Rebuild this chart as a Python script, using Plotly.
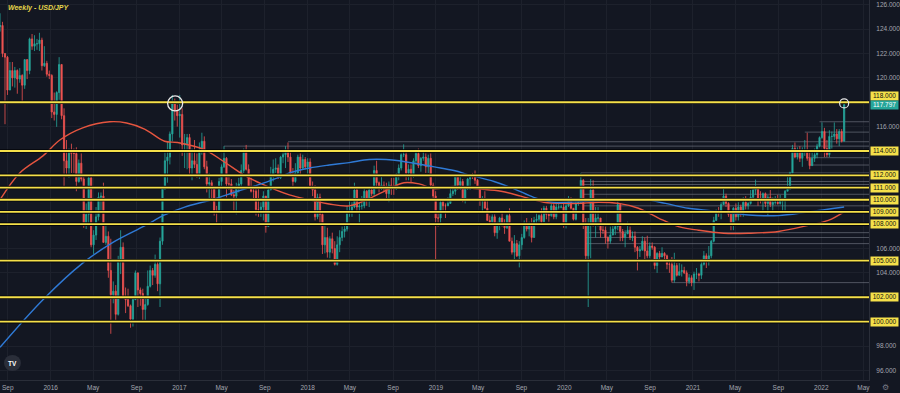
import plotly.graph_objects as go
import pandas as pd

# ---------------- data (weekly USD/JPY, weeks starting Mon 2015-08-10) ----------------
first_open = 124.2
close = [
    # 2015
    124.3, 122.0, 121.7, 119.0, 120.6, 120.0, 120.6, 119.9, 120.2, 119.4, 121.5, 120.6, 123.2, 122.6, 122.8, 122.8, 123.1, 121.0, 121.2, 120.3, 120.2,
    # 2016
    117.2, 117.0, 118.8, 121.1, 116.9, 113.2, 112.6, 114.0, 113.8, 113.8, 111.5, 113.0, 111.7, 108.0, 108.8, 111.8, 106.3, 107.1, 108.6, 110.2,
    110.3, 106.5, 107.0, 104.2, 102.2, 102.5, 100.6, 104.9, 106.1, 102.0, 101.8, 101.3, 100.2, 101.8, 104.0, 102.6, 102.3, 101.0, 101.4, 102.9,
    104.2, 103.8, 104.7, 103.1, 106.6, 110.9, 113.2, 113.5, 115.4, 117.9, 117.3, 116.9,
    # 2017
    117.0, 114.5, 114.6, 115.1, 112.6, 113.2, 112.9, 112.1, 114.0, 114.8, 112.7, 111.3, 111.4, 111.1, 109.1, 109.1, 111.5, 112.7, 113.4, 111.3,
    111.3, 110.4, 110.3, 110.9, 111.3, 112.4, 113.9, 112.5, 111.1, 110.7, 110.7, 109.2, 109.2, 109.4, 110.3, 107.8, 110.8, 112.0, 112.5, 112.6,
    111.8, 113.5, 113.7, 114.1, 113.5, 112.1, 111.5, 112.2, 113.5, 112.6, 113.3, 112.7,
    # 2018
    113.1, 111.0, 110.8, 108.6, 110.2, 108.8, 106.3, 106.9, 105.7, 106.8, 106.0, 104.7, 106.3, 106.9, 107.4, 107.6, 109.0, 109.1, 109.4, 110.8,
    109.4, 109.5, 109.5, 110.7, 110.0, 110.8, 110.5, 112.4, 111.4, 111.0, 111.2, 110.9, 110.5, 111.2, 111.1, 110.9, 112.0, 112.6, 113.7, 113.7,
    112.2, 112.5, 111.9, 113.2, 113.8, 112.8, 113.4, 113.5, 112.7, 113.4, 111.2, 110.3, 108.5,
    # 2019
    108.5, 109.8, 109.5, 109.5, 109.7, 110.5, 110.7, 111.9, 111.2, 111.5, 109.9, 110.9, 111.7, 112.0, 111.9, 111.6, 111.1, 109.9, 110.1, 109.3,
    108.3, 108.2, 108.6, 107.3, 107.9, 108.5, 107.9, 107.7, 108.7, 106.6, 105.7, 106.4, 105.4, 106.3, 106.9, 108.1, 107.6, 107.9, 106.9, 108.3,
    108.4, 108.7, 108.2, 109.3, 108.8, 108.7, 109.5, 108.6, 109.4, 109.4, 109.4, 108.1,
    # 2020
    109.5, 110.1, 109.3, 108.4, 109.7, 109.8, 111.6, 107.9, 105.4, 107.9, 110.8, 107.9, 108.5, 108.5, 107.5, 107.5, 106.9, 106.6, 107.1, 107.6,
    107.8, 109.6, 107.4, 106.9, 107.2, 107.5, 106.9, 107.0, 106.1, 105.8, 105.9, 106.6, 105.8, 105.4, 106.2, 106.1, 104.6, 105.6, 105.3, 105.6,
    105.4, 104.7, 104.7, 103.4, 104.6, 103.8, 104.1, 104.2, 104.0, 103.3, 103.6, 103.2,
    # 2021
    103.9, 103.9, 103.8, 104.7, 105.4, 104.9, 105.4, 106.6, 108.3, 109.0, 108.9, 109.6, 110.3, 109.7, 108.8, 107.9, 109.3, 108.6, 109.4, 108.9,
    109.8, 109.5, 109.7, 110.2, 110.8, 111.0, 110.1, 110.1, 110.5, 109.7, 110.2, 109.6, 109.8, 109.8, 109.7, 109.9, 109.9, 110.7, 111.0, 112.2,
    114.2, 113.5, 114.0, 113.4, 113.9, 114.0, 113.4, 112.8, 113.4, 113.7, 114.4, 115.1,
    # 2022
    115.6, 114.2, 113.7, 115.2, 115.2, 115.4, 115.0, 115.6, 114.8, 117.797,
]
high = [
    # 2015
    125.3, 124.6, 122.0, 121.8, 121.3, 121.3, 120.9, 120.7, 120.8, 120.3, 121.5, 121.5, 123.3, 123.6, 123.5, 123.2, 123.7, 123.3, 122.6, 121.4, 120.6,
    # 2016
    120.3, 118.8, 118.9, 121.7, 121.0, 117.5, 114.9, 114.2, 114.6, 114.2, 114.3, 113.3, 113.8, 112.1, 109.7, 111.9, 111.9, 107.5, 109.4, 110.6,
    110.6, 111.4, 107.9, 107.4, 106.8, 103.3, 103.0, 105.4, 107.5, 106.5, 102.8, 102.7, 101.4, 102.0, 104.2, 104.0, 102.8, 102.7, 101.9, 104.2,
    104.6, 104.4, 105.5, 105.0, 106.9, 111.0, 113.9, 114.8, 115.6, 118.6, 118.3, 117.8,
    # 2017
    118.6, 117.5, 115.4, 115.4, 115.4, 114.2, 114.9, 113.8, 114.7, 115.5, 115.2, 113.2, 112.2, 111.6, 111.1, 109.5, 111.8, 112.9, 114.4, 113.5,
    112.1, 111.7, 110.8, 111.4, 111.8, 112.9, 114.2, 114.5, 112.9, 111.8, 111.1, 110.9, 110.9, 109.8, 110.7, 110.3, 111.0, 112.7, 113.3, 113.4,
    112.9, 113.6, 114.1, 114.4, 114.7, 113.9, 112.6, 113.0, 113.7, 113.8, 113.7, 113.5,
    # 2018
    113.4, 113.4, 111.5, 111.2, 110.5, 110.5, 109.0, 107.9, 107.7, 107.0, 107.3, 106.6, 107.0, 107.5, 107.8, 107.9, 109.5, 110.0, 109.8, 111.4,
    111.1, 109.8, 110.3, 110.9, 110.8, 110.9, 111.1, 112.8, 113.2, 111.5, 112.1, 111.5, 111.4, 111.5, 111.8, 111.8, 112.2, 112.9, 113.8, 114.55,
    113.9, 112.9, 112.9, 113.4, 114.1, 114.2, 113.5, 114.0, 113.8, 113.7, 113.8, 111.4, 110.7,
    # 2019
    109.1, 109.9, 109.9, 109.7, 110.2, 111.1, 110.9, 112.1, 112.1, 111.9, 111.7, 111.0, 111.8, 112.1, 112.2, 112.4, 111.7, 111.1, 110.3, 110.7,
    109.9, 108.7, 108.8, 108.8, 108.2, 108.6, 108.9, 108.4, 108.8, 109.3, 106.9, 107.1, 106.7, 106.6, 107.2, 108.3, 108.5, 108.2, 108.5, 108.6,
    108.9, 108.8, 109.3, 109.5, 109.5, 109.0, 109.7, 109.7, 109.7, 109.7, 109.6, 109.7,
    # 2020
    109.7, 110.3, 110.2, 109.3, 110.0, 110.1, 112.2, 111.7, 108.5, 108.5, 111.7, 111.6, 109.4, 109.4, 108.1, 108.1, 107.8, 107.0, 107.8, 107.9,
    107.9, 109.85, 109.5, 107.6, 107.5, 108.2, 107.8, 107.4, 107.4, 106.2, 106.2, 107.0, 106.9, 107.05, 106.5, 106.5, 106.2, 105.7, 105.8, 106.1,
    105.7, 105.5, 104.9, 105.3, 105.65, 104.8, 104.8, 104.7, 104.5, 104.2, 103.9, 103.8,
    # 2021
    104.1, 104.4, 104.0, 104.9, 105.8, 105.6, 106.2, 106.7, 108.6, 109.2, 109.4, 109.8, 110.97, 110.5, 109.8, 108.9, 109.4, 109.7, 109.8, 109.6,
    110.2, 110.3, 109.8, 110.8, 111.1, 111.66, 111.0, 110.7, 110.6, 110.6, 110.4, 110.8, 110.2, 110.3, 110.4, 110.4, 110.0, 110.8, 112.1, 112.3,
    114.5, 114.7, 114.3, 114.4, 114.3, 114.9, 115.5, 113.9, 113.9, 114.2, 114.6, 115.2,
    # 2022
    116.35, 115.9, 114.9, 115.7, 115.6, 116.34, 115.8, 115.8, 115.8, 117.9,
]
low = [
    # 2015
    123.8, 121.7, 116.2, 118.6, 119.2, 119.3, 119.2, 118.7, 119.6, 118.1, 119.1, 119.9, 120.3, 122.3, 122.2, 122.3, 122.2, 120.6, 120.9, 120.1, 119.9,
    # 2016
    116.7, 116.5, 115.98, 118.2, 116.6, 111.0, 112.1, 111.8, 112.2, 112.2, 110.7, 111.4, 111.5, 107.7, 107.6, 107.9, 106.1, 105.55, 106.7, 108.3,
    108.9, 106.5, 106.3, 103.6, 99.0, 101.5, 99.9, 100.5, 103.9, 101.9, 100.7, 101.2, 99.5, 99.6, 101.8, 101.2, 101.3, 100.1, 100.1, 101.3,
    102.8, 103.0, 103.6, 102.5, 101.2, 106.3, 110.8, 111.4, 112.9, 114.8, 116.5, 116.0,
    # 2017
    115.1, 113.6, 112.6, 112.5, 112.1, 111.6, 112.6, 111.8, 111.7, 113.7, 112.5, 110.6, 110.1, 110.1, 108.7, 108.1, 108.9, 111.0, 112.6, 110.2,
    110.8, 110.3, 109.1, 108.8, 110.6, 110.9, 112.2, 112.4, 111.0, 110.6, 109.9, 108.7, 108.6, 108.6, 108.3, 107.3, 107.8, 110.8, 111.5, 112.2,
    111.7, 111.7, 113.0, 112.6, 113.1, 112.0, 111.1, 111.4, 111.9, 112.0, 112.5, 112.5,
    # 2018
    112.1, 110.9, 110.3, 108.3, 108.4, 108.0, 105.55, 105.6, 105.25, 105.2, 105.6, 104.6, 104.6, 105.7, 106.6, 106.9, 107.4, 108.6, 108.6, 109.3,
    108.9, 108.1, 109.2, 109.3, 109.5, 109.4, 110.3, 110.3, 111.1, 110.6, 110.8, 110.7, 110.1, 109.8, 110.4, 110.4, 110.8, 111.6, 112.4, 113.5,
    111.6, 111.6, 111.4, 111.8, 112.9, 112.6, 112.3, 113.2, 112.2, 112.2, 111.0, 110.0, 104.9,
    # 2019
    107.8, 108.0, 109.1, 108.5, 109.5, 109.7, 110.3, 110.4, 110.8, 110.8, 109.8, 109.7, 110.8, 110.8, 111.7, 111.3, 110.9, 109.5, 109.0, 109.3,
    108.3, 107.9, 108.1, 107.0, 106.8, 107.5, 107.8, 107.2, 107.6, 106.6, 105.5, 105.1, 105.3, 104.45, 105.9, 106.8, 107.4, 107.0, 106.5, 106.9,
    108.0, 108.2, 107.9, 108.3, 108.4, 108.2, 108.6, 108.4, 108.4, 109.2, 109.3, 107.7,
    # 2020
    107.65, 109.4, 109.2, 108.3, 108.3, 109.5, 109.7, 107.6, 105.0, 101.2, 105.2, 107.8, 106.9, 107.8, 106.9, 107.2, 106.4, 106.0, 106.4, 107.1,
    107.1, 107.5, 106.6, 106.6, 106.1, 107.2, 106.7, 106.6, 105.7, 104.2, 105.3, 105.8, 105.1, 105.2, 105.2, 105.9, 104.3, 104.0, 105.0, 105.3,
    105.0, 104.3, 104.0, 103.2, 103.2, 103.7, 103.9, 103.7, 103.9, 102.9, 103.1, 102.9,
    # 2021
    102.6, 103.5, 103.3, 103.5, 104.6, 104.4, 104.6, 105.2, 106.5, 108.3, 108.6, 108.4, 109.6, 109.4, 108.6, 107.5, 107.5, 108.3, 108.3, 108.6,
    108.6, 109.2, 109.2, 109.6, 110.1, 110.4, 109.5, 109.7, 109.1, 109.4, 108.7, 109.4, 109.1, 109.6, 109.6, 109.6, 109.1, 109.1, 110.7, 110.8,
    112.2, 113.4, 113.3, 113.1, 112.7, 113.6, 113.2, 112.5, 113.0, 113.1, 113.4, 114.3,
    # 2022
    115.0, 113.5, 113.5, 113.5, 114.2, 114.9, 114.6, 114.4, 114.7, 114.8,
]

# moving averages (red ~100 week, blue ~200 week)
ma_red_dates = ["2015-08-10", "2015-10-05", "2015-12-10", "2016-01-27", "2016-04-01", "2016-06-17", "2016-08-04",
                "2016-09-24", "2016-11-20", "2016-12-27", "2017-03-14", "2017-05-09", "2017-07-05", "2017-08-31",
                "2017-11-10", "2018-01-06", "2018-03-03", "2018-04-29", "2018-06-25", "2018-08-21", "2018-10-02",
                "2018-11-14", "2018-12-27", "2019-02-21", "2019-04-28", "2019-07-05", "2019-08-30", "2019-11-04",
                "2020-01-08", "2020-02-11", "2020-04-08", "2020-06-04", "2020-07-30", "2020-09-25", "2020-11-21",
                "2021-01-17", "2021-03-29", "2021-06-08", "2021-09-01", "2021-11-25", "2022-01-21", "2022-03-07"]
ma_red_vals = [110.0, 112.2, 113.6, 114.9, 115.9, 116.4, 116.3, 115.8, 114.8, 114.7, 114.1, 113.1, 112.0, 111.2,
               110.4, 110.0, 109.65, 109.5, 110.1, 110.9, 111.4, 111.3, 110.9, 111.1, 110.9, 110.7, 110.3, 109.8,
               109.7, 109.7, 109.8, 109.7, 109.3, 108.5, 107.8, 107.5, 107.25, 107.25, 107.4, 107.9, 108.3, 109.0]
ma_blue_dates = ["2015-08-10", "2015-12-10", "2016-04-01", "2016-06-26", "2016-09-24", "2016-11-20", "2017-01-16",
                 "2017-04-03", "2017-06-15", "2017-08-11", "2017-10-07", "2017-11-10", "2018-01-06", "2018-03-03",
                 "2018-04-29", "2018-06-25", "2018-08-12", "2018-09-18", "2018-12-27", "2019-02-21", "2019-04-10",
                 "2019-06-15", "2019-08-11", "2019-10-06", "2019-12-02", "2020-02-11", "2020-06-04", "2020-08-19",
                 "2020-10-15", "2020-12-19", "2021-03-29", "2021-06-08", "2021-09-01", "2021-11-25", "2022-03-07"]
ma_blue_vals = [97.9, 101.8, 104.8, 106.5, 107.85, 108.75, 109.4, 110.0, 110.7, 111.2, 111.8, 112.2, 112.6, 112.85,
                113.05, 113.3, 113.3, 113.2, 112.7, 112.4, 112.0, 111.5, 110.9, 110.2, 109.8, 109.85, 110.0, 110.0,
                109.7, 109.3, 109.0, 108.75, 108.7, 109.0, 109.4]

# horizontal levels
yellow_levels = [118, 114, 112, 111, 110, 109, 108, 105, 102, 100]
gray_ray_start = ["2017-05-08", "2017-11-06", "2020-02-17", "2020-02-17", "2020-02-17", "2020-02-24", "2020-02-24",
                  "2020-03-02", "2020-03-02", "2020-03-02", "2020-11-02", "2021-11-15", "2021-12-27", "2021-11-22",
                  "2021-11-29"]
gray_ray_price = [114.4, 114.76, 112.2, 111.5, 111.25, 110.45, 109.5, 107.3, 106.9, 106.4, 103.2, 115.55, 116.4,
                  113.45, 112.85]

x_tick_vals = ["2015-09-01", "2016-01-01", "2016-05-01", "2016-09-01", "2017-01-01", "2017-05-01", "2017-09-01",
               "2018-01-01", "2018-05-01", "2018-09-01", "2019-01-01", "2019-05-01", "2019-09-01", "2020-01-01",
               "2020-05-01", "2020-09-01", "2021-01-01", "2021-05-01", "2021-09-01", "2022-01-01", "2022-05-01"]
x_tick_text = ["Sep", "2016", "May", "Sep", "2017", "May", "Sep", "2018", "May", "Sep", "2019", "May", "Sep",
               "2020", "May", "Sep", "2021", "May", "Sep", "2022", "May"]
y_tick_vals = [96, 98, 100, 102, 104, 106, 108, 110, 112, 114, 116, 118, 120, 122, 124, 126]
y_tick_text = ["96.000", "98.000", "", "", "104.000", "106.000", "", "", "", "", "116.000", "", "120.000",
               "122.000", "124.000", "126.000"]
last_price = 117.797

# ---------------- figure ----------------
dates = pd.date_range("2015-08-10", periods=len(close), freq="7D")
opens = [first_open] + close[:-1]
highs = [max(h, o, c) for h, o, c in zip(high, opens, close)]
lows = [min(l, o, c) for l, o, c in zip(low, opens, close)]

BG = "#131722"
GRID = "#1d212c"
TEAL = "#26a69a"
RED = "#ef5350"
YEL = "#f5e04a"
TXT = "#a3a6af"
FONT = "Liberation Sans"

fig = go.Figure()
fig.add_trace(go.Candlestick(
    x=dates, open=opens, high=highs, low=lows, close=close,
    increasing=dict(line=dict(color=TEAL, width=0.8), fillcolor=TEAL),
    decreasing=dict(line=dict(color=RED, width=0.8), fillcolor=RED),
    whiskerwidth=0, showlegend=False, hoverinfo="skip"))
fig.add_trace(go.Scatter(x=ma_red_dates, y=ma_red_vals, mode="lines", showlegend=False, hoverinfo="skip",
                         line=dict(color="#e5553f", width=1.4, shape="spline", smoothing=1.0)))
fig.add_trace(go.Scatter(x=ma_blue_dates, y=ma_blue_vals, mode="lines", showlegend=False, hoverinfo="skip",
                         line=dict(color="#2f7ad6", width=1.4, shape="spline", smoothing=1.0)))

shapes = []
for d, p in zip(gray_ray_start, gray_ray_price):
    shapes.append(dict(type="line", xref="x", x0=d, x1="2022-05-20", yref="y", y0=p, y1=p,
                       line=dict(color="rgba(130,134,146,0.55)", width=1), layer="between"))
for p in yellow_levels:
    shapes.append(dict(type="line", xref="paper", x0=0, x1=1, yref="y", y0=p, y1=p,
                       line=dict(color="#05060a", width=3.6), layer="above"))
    shapes.append(dict(type="line", xref="paper", x0=0, x1=1, yref="y", y0=p, y1=p,
                       line=dict(color=YEL, width=1.8), layer="above"))
# highlight circles
shapes.append(dict(type="circle", xref="x", yref="y", xsizemode="pixel", ysizemode="pixel",
                   xanchor="2016-12-20", yanchor=117.9, x0=-7.5, x1=7.5, y0=-7.5, y1=7.5,
                   line=dict(color="#e8e8e8", width=1.3), layer="above"))
shapes.append(dict(type="circle", xref="x", yref="y", xsizemode="pixel", ysizemode="pixel",
                   xanchor="2022-03-07", yanchor=117.9, x0=-4.5, x1=4.5, y0=-4.5, y1=4.5,
                   line=dict(color="#e8e8e8", width=1.2), layer="above"))
# logo circle
shapes.append(dict(type="circle", xref="paper", yref="paper", x0=4 / 871, x1=21 / 871,
                   y0=(380 - 371) / 380, y1=(380 - 355) / 380,
                   fillcolor="#2a2e39", line=dict(width=0), layer="above"))

annotations = []
for p in yellow_levels:
    annotations.append(dict(xref="paper", x=1, xanchor="left", xshift=1, yref="y", y=p,
                            yshift=6.5 if p == 118 else 0, yanchor="middle",
                            text=f"{p:.3f}", showarrow=False, bgcolor=YEL, borderpad=0.6,
                            width=26, height=6.6, align="center",
                            font=dict(family=FONT, size=6.5, color="#111111")))
annotations.append(dict(xref="paper", x=1, xanchor="left", xshift=1, yref="y", y=last_price, yanchor="middle",
                        text=f"{last_price:.3f}", showarrow=False, bgcolor=TEAL, borderpad=0.6,
                        width=26, height=6.6, align="center",
                        font=dict(family=FONT, size=6.5, color="#ffffff")))
annotations.append(dict(xref="paper", yref="paper", x=6 / 871, y=1 - 8 / 380, xanchor="left", yanchor="middle",
                        text="<b><i>Weekly - USD/JPY</i></b>", showarrow=False,
                        font=dict(family=FONT, size=7, color="#e6d64c")))
annotations.append(dict(xref="paper", yref="paper", x=12.5 / 871, y=(380 - 363) / 380, xanchor="center",
                        yanchor="middle", text="<b>TV</b>", showarrow=False,
                        font=dict(family=FONT, size=6.5, color="#ffffff")))
annotations.append(dict(xref="paper", yref="paper", x=888 / 871, y=(380 - 387) / 380, xanchor="center",
                        yanchor="middle", text="⚙", showarrow=False,
                        font=dict(family="DejaVu Sans", size=8, color="#787b86")))

fig.update_layout(
    width=900, height=393,
    margin=dict(l=0, r=29, t=0, b=13),
    paper_bgcolor=BG, plot_bgcolor=BG,
    shapes=shapes, annotations=annotations,
    showlegend=False,
    xaxis=dict(type="date", range=["2015-08-09 19:00", "2022-05-16 17:00"],
               rangeslider=dict(visible=False),
               tickmode="array", tickvals=x_tick_vals, ticktext=x_tick_text,
               showgrid=True, gridcolor=GRID, gridwidth=1, zeroline=False,
               showline=True, linecolor="#2a2e39", linewidth=1, ticks="",
               tickfont=dict(family=FONT, size=6.5, color=TXT), ticklabelstandoff=1, fixedrange=True),
    yaxis=dict(side="right", range=[95.21, 126.39], tickmode="array", tickvals=y_tick_vals,
               ticktext=y_tick_text, showgrid=True, gridcolor=GRID, gridwidth=1, zeroline=False,
               showline=True, linecolor="#2a2e39", linewidth=1, ticks="",
               tickfont=dict(family=FONT, size=6.5, color=TXT), ticklabelstandoff=5, fixedrange=True),
)

fig.write_html("out.html", config={"displayModeBar": False},
               post_script="document.body.style.margin='0';document.body.style.overflow='hidden';"
                           "document.body.style.background='#131722';")
